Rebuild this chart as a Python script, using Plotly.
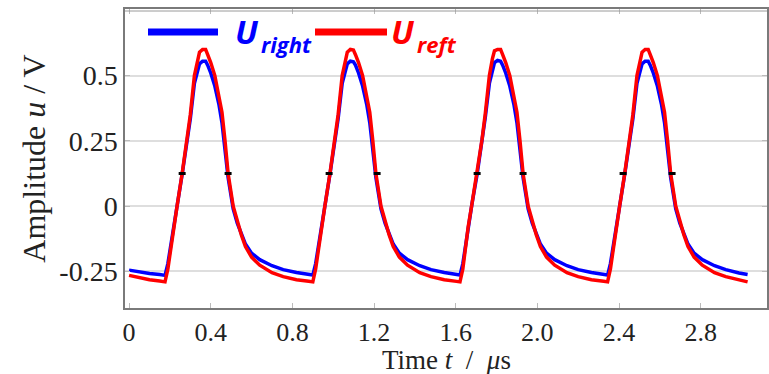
import plotly.graph_objects as go

# ---------------- data ----------------
time_us = [
    0.0, 0.05, 0.10, 0.15,
    0.176, 0.19, 0.201, 0.216, 0.235, 0.26, 0.284, 0.30, 0.32, 0.335, 0.345, 0.36, 0.375, 0.385, 0.40, 0.42,
    0.44, 0.455, 0.47, 0.485, 0.51, 0.53, 0.55, 0.57, 0.60, 0.64, 0.70, 0.755, 0.82, 0.88,
    0.900, 0.914, 0.925, 0.940, 0.959, 0.984, 1.008, 1.024, 1.044, 1.059, 1.069, 1.084, 1.099, 1.109, 1.124, 1.144,
    1.164, 1.179, 1.194, 1.209, 1.234, 1.254, 1.274, 1.294, 1.324, 1.364, 1.424, 1.479, 1.544, 1.604,
    1.621, 1.635, 1.646, 1.661, 1.680, 1.705, 1.729, 1.745, 1.765, 1.780, 1.790, 1.805, 1.820, 1.830, 1.845, 1.865,
    1.885, 1.900, 1.915, 1.930, 1.955, 1.975, 1.995, 2.015, 2.045, 2.085, 2.145, 2.200, 2.265, 2.325,
    2.344, 2.358, 2.369, 2.384, 2.403, 2.428, 2.452, 2.468, 2.488, 2.503, 2.513, 2.528, 2.543, 2.553, 2.568, 2.588,
    2.608, 2.623, 2.638, 2.653, 2.678, 2.698, 2.718, 2.738, 2.768, 2.808, 2.868, 2.923, 2.988, 3.03,
]
u_right = [
    -0.245, -0.252, -0.258, -0.262,
    -0.265, -0.22, -0.17, -0.09, 0.0, 0.122, 0.245, 0.335, 0.47, 0.52, 0.545, 0.555, 0.555, 0.54, 0.51, 0.46,
    0.39, 0.32, 0.22, 0.11, -0.01, -0.065, -0.105, -0.145, -0.18, -0.205, -0.228, -0.243, -0.254, -0.26,
    -0.264, -0.22, -0.17, -0.09, 0.0, 0.122, 0.245, 0.335, 0.47, 0.52, 0.545, 0.555, 0.553, 0.54, 0.51, 0.46,
    0.39, 0.32, 0.22, 0.11, -0.01, -0.065, -0.105, -0.145, -0.18, -0.205, -0.228, -0.243, -0.254, -0.26,
    -0.264, -0.22, -0.16, -0.08, 0.01, 0.122, 0.25, 0.34, 0.47, 0.525, 0.55, 0.558, 0.555, 0.54, 0.51, 0.46,
    0.39, 0.32, 0.22, 0.11, -0.01, -0.065, -0.105, -0.145, -0.18, -0.205, -0.228, -0.243, -0.254, -0.26,
    -0.264, -0.22, -0.17, -0.09, 0.0, 0.122, 0.245, 0.335, 0.47, 0.52, 0.545, 0.555, 0.555, 0.54, 0.51, 0.46,
    0.39, 0.32, 0.22, 0.11, -0.01, -0.065, -0.105, -0.145, -0.18, -0.205, -0.228, -0.243, -0.256, -0.262,
]
u_reft = [
    -0.265, -0.275, -0.282, -0.287,
    -0.29, -0.24, -0.18, -0.09, 0.0, 0.125, 0.25, 0.35, 0.50, 0.56, 0.59, 0.60, 0.60, 0.58, 0.55, 0.50,
    0.42, 0.36, 0.25, 0.125, 0.0, -0.06, -0.11, -0.155, -0.195, -0.226, -0.255, -0.27, -0.282, -0.288,
    -0.29, -0.24, -0.18, -0.09, 0.0, 0.125, 0.25, 0.35, 0.50, 0.56, 0.59, 0.60, 0.598, 0.58, 0.55, 0.50,
    0.42, 0.36, 0.25, 0.125, 0.0, -0.06, -0.11, -0.155, -0.195, -0.226, -0.255, -0.27, -0.282, -0.288,
    -0.29, -0.24, -0.17, -0.08, 0.01, 0.125, 0.255, 0.355, 0.50, 0.565, 0.595, 0.60, 0.60, 0.58, 0.55, 0.50,
    0.42, 0.36, 0.25, 0.125, 0.0, -0.06, -0.11, -0.155, -0.195, -0.226, -0.255, -0.27, -0.282, -0.288,
    -0.29, -0.24, -0.18, -0.09, 0.0, 0.125, 0.25, 0.35, 0.50, 0.56, 0.59, 0.60, 0.60, 0.58, 0.55, 0.50,
    0.42, 0.36, 0.25, 0.125, 0.0, -0.06, -0.11, -0.155, -0.195, -0.226, -0.255, -0.27, -0.284, -0.29,
]
mark_t = [0.26, 0.485, 0.98, 1.215, 1.705, 1.93, 2.42, 2.66]
mark_u = [0.125, 0.125, 0.125, 0.125, 0.125, 0.125, 0.125, 0.125]

x_ticks = [0, 0.4, 0.8, 1.2, 1.6, 2.0, 2.4, 2.8]
x_ticklabels = ["0", "0.4", "0.8", "1.2", "1.6", "2.0", "2.4", "2.8"]
y_ticks = [-0.25, 0, 0.25, 0.5]
y_ticklabels = ["-0.25", "0", "0.25", "0.5"]

# ---------------- figure ----------------
W, H = 769, 374
L, R, T, B = 125, 2, 9, 66
pw, ph = W - L - R, H - T - B

def px(x):
    return (x - L) / pw

def py(y):
    return (H - B - y) / ph

serif = "Liberation Serif, Times New Roman, serif"
NB = "\u00a0"

fig = go.Figure()
fig.add_trace(go.Scatter(x=time_us, y=u_right, mode="lines", name="U_right",
                         line=dict(color="#0000ff", width=3.5), showlegend=False))
fig.add_trace(go.Scatter(x=time_us, y=u_reft, mode="lines", name="U_reft",
                         line=dict(color="#ff0000", width=3.5), showlegend=False))
fig.add_trace(go.Scatter(x=mark_t, y=mark_u, mode="markers", showlegend=False,
                         marker=dict(symbol="line-ew", size=5, color="black",
                                     line=dict(color="black", width=3))))

axis_common = dict(showline=True, linecolor="#7a7a7a", linewidth=1.5, mirror="ticks",
                   ticks="inside", ticklen=5, tickcolor="#bbbbbb", tickwidth=1,
                   zeroline=False, automargin=False)

fig.update_xaxes(range=[-0.02, 3.125], tickvals=x_ticks, ticktext=x_ticklabels,
                 showgrid=False, tickfont=dict(family=serif, size=26, color="#222222"),
                 ticklabelstandoff=0,
                 **axis_common)
fig.update_yaxes(range=[-0.39, 0.755], tickvals=y_ticks, ticktext=y_ticklabels,
                 showgrid=True, gridcolor="#dedede", gridwidth=1.5,
                 tickfont=dict(family=serif, size=28, color="#222222"),
                 title=dict(text="Amplitude <i>u</i> / V",
                            font=dict(family=serif, size=32, color="#222222"), standoff=4),
                 **axis_common)

shapes = [
    # double top border
    dict(type="line", xref="paper", yref="paper", x0=0, x1=1, y0=py(11), y1=py(11),
         line=dict(color="#9a9a9a", width=1)),
    # legend line samples
    dict(type="line", xref="paper", yref="paper", x0=px(148), x1=px(218), y0=py(32), y1=py(32),
         line=dict(color="#0000ff", width=7)),
    dict(type="line", xref="paper", yref="paper", x0=px(315), x1=px(387), y0=py(32), y1=py(32),
         line=dict(color="#ff0000", width=7)),
]
legend_font = "Open Sans, Noto Sans, sans-serif"
annotations = [
    # x-axis title
    dict(xref="paper", yref="paper", x=px(446), y=py(377), xanchor="center", yanchor="bottom",
         showarrow=False, text="Time <i>t</i> " + NB + "/" + NB + " <i>μ</i>s",
         font=dict(family=serif, size=27, color="#222222")),
    # legend texts
    dict(xref="paper", yref="paper", x=px(233), y=py(32), xanchor="left", yanchor="middle",
         showarrow=False, text="<b><i>U</i></b>",
         font=dict(family=legend_font, size=33, color="#0000ff")),
    dict(xref="paper", yref="paper", x=px(259), y=py(44), xanchor="left", yanchor="middle",
         showarrow=False, text="<b><i>right</i></b>",
         font=dict(family=legend_font, size=22, color="#0000ff")),
    dict(xref="paper", yref="paper", x=px(389), y=py(32), xanchor="left", yanchor="middle",
         showarrow=False, text="<b><i>U</i></b>",
         font=dict(family=legend_font, size=33, color="#ff0000")),
    dict(xref="paper", yref="paper", x=px(415), y=py(44), xanchor="left", yanchor="middle",
         showarrow=False, text="<b><i>reft</i></b>",
         font=dict(family=legend_font, size=22, color="#ff0000")),
]

fig.update_layout(width=W, height=H, margin=dict(l=L, r=R, t=T, b=B),
                  paper_bgcolor="white", plot_bgcolor="white",
                  shapes=shapes, annotations=annotations, showlegend=False)

fig.write_html("out.html")
